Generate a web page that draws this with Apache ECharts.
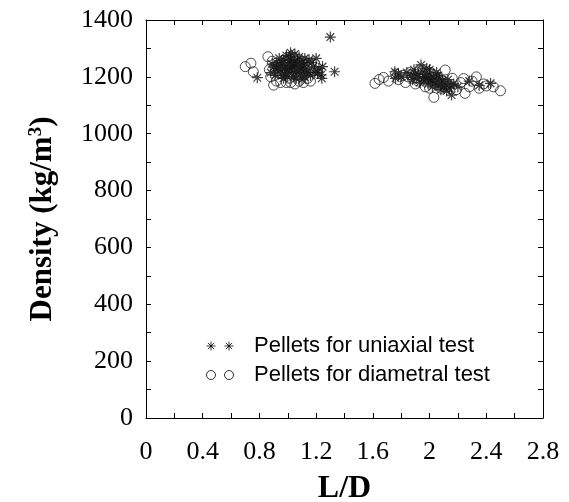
<!DOCTYPE html>
<html><head><meta charset="utf-8">
<script src="https://cdn.jsdelivr.net/npm/echarts@6/dist/echarts.min.js"></script>
<style>html,body{margin:0;padding:0;background:#fff}#c{width:569px;height:502px}</style>
</head><body><div id="c"></div>
<script>
// Uniaxial test pellets (stars)
var uniX = [0.785,1.30,1.20,1.245,1.235,1.33,0.88,0.90,0.92,0.93,0.95,0.96,0.97,0.98,0.99,1.00,1.01,1.02,1.03,1.04,1.05,1.05,1.06,1.07,1.08,1.09,1.10,1.11,1.12,1.13,1.14,1.15,1.16,1.18,1.19,1.22,1.24,0.94,0.97,1.00,1.02,1.03,1.06,0.91,0.89,1.08,1.10,0.99,1.01,1.04,1.12,1.17,1.21,
  0.93,0.96,0.98,1.00,1.03,1.05,1.07,1.09,1.11,1.13,0.95,1.02,
  1.755,1.76,1.78,1.80,1.84,1.87,1.89,1.91,1.92,1.94,1.95,1.96,1.97,1.98,1.99,2.00,2.01,2.02,2.03,2.04,2.05,2.06,2.07,2.08,2.09,2.10,2.11,2.12,2.13,2.14,2.155,2.17,2.20,2.28,2.35,2.43,1.93,1.88,2.00,2.06,
  1.90,1.96,2.02,2.08,2.15,1.99];
var uniY = [1197,1340,1265,1236,1207,1218,1215,1235,1250,1220,1240,1205,1260,1230,1215,1245,1270,1225,1255,1200,1280,1240,1220,1260,1235,1210,1250,1230,1200,1245,1220,1260,1205,1235,1215,1230,1195,1265,1195,1200,1285,1240,1195,1205,1245,1270,1190,1275,1230,1250,1265,1250,1215,
  1230,1250,1210,1225,1235,1215,1245,1225,1240,1215,1225,1260,
  1218,1195,1210,1200,1215,1205,1225,1195,1210,1242,1220,1185,1200,1230,1175,1210,1190,1165,1200,1180,1215,1170,1195,1155,1185,1165,1175,1150,1190,1160,1136,1175,1165,1185,1170,1177,1180,1190,1225,1205,
  1210,1200,1185,1175,1170,1195];
// Diametral test pellets (circles)
var diaX = [0.70,0.74,0.757,0.86,0.90,1.16,0.87,0.88,0.89,0.92,0.94,0.95,0.97,0.99,1.00,1.02,1.03,1.05,1.06,1.08,1.09,1.11,1.12,1.14,0.96,1.01,1.04,0.93,1.07,1.18,
  1.615,1.645,1.675,1.71,1.76,1.78,1.81,1.83,1.86,1.88,1.90,1.93,1.95,1.97,1.99,2.01,2.03,2.04,2.06,2.08,2.11,2.13,2.16,2.19,2.22,2.24,2.25,2.28,2.30,2.33,2.35,2.38,2.40,2.45,2.50,1.92,2.00,2.10,1.85];
var diaY = [1236,1248,1218,1271,1171,1185,1225,1200,1255,1185,1215,1180,1245,1180,1260,1180,1210,1175,1245,1185,1225,1180,1210,1195,1225,1195,1230,1240,1205,1220,
  1177,1191,1198,1185,1210,1190,1205,1180,1215,1195,1175,1225,1200,1165,1190,1215,1128,1175,1195,1160,1224,1175,1195,1155,1180,1194,1142,1165,1185,1200,1160,1175,1168,1165,1151,1185,1160,1185,1200];
var xTicks = [0,0.4,0.8,1.2,1.6,2,2.4,2.8];
var yTicks = [0,200,400,600,800,1000,1200,1400];
var seriesNames = ['Pellets for uniaxial test','Pellets for diametral test'];

function pairs(xs, ys){ return xs.map(function(x,i){ return [x, ys[i]]; }); }
function fmt(v){ return String(Math.round(v*1000)/1000); }
var star = 'path://M0,-5L0,5M-5,0L5,0M-3.5,-3.5L3.5,3.5M-3.5,3.5L3.5,-3.5';
var star2 = 'path://M0,-5L0,5M-5,0L5,0M-3.5,-3.5L3.5,3.5M-3.5,3.5L3.5,-3.5M20,-5L20,5M15,0L25,0M16.5,-3.5L23.5,3.5M16.5,3.5L23.5,-3.5';
var circ2 = 'path://M-5,0A5,5 0 1,1 5,0A5,5 0 1,1 -5,0ZM15,0A5,5 0 1,1 25,0A5,5 0 1,1 15,0Z';
var serif = "'Liberation Serif','Times New Roman',serif";
var sans = "'Liberation Sans',Arial,sans-serif";
var axBase = {
  min: 0, axisLine:{show:true,onZero:false,lineStyle:{color:'#000',width:1}},
  axisTick:{show:true,inside:true,length:5,lineStyle:{color:'#000'}},
  minorTick:{show:true,splitNumber:2,length:5,lineStyle:{color:'#000'}},
  splitLine:{show:false}
};
var chart = echarts.init(document.getElementById('c'));
chart.setOption({
  animation:false,
  backgroundColor:'#fff',
  grid:{left:146,right:26,top:20,bottom:84,outerBoundsMode:'none',containLabel:false},
  xAxis:[
    Object.assign({}, axBase, {type:'value', position:'bottom', max:xTicks[xTicks.length-1], interval:0.4,
      name:'L/D', nameLocation:'middle', nameGap:55,
      nameTextStyle:{fontFamily:serif,fontWeight:'bold',fontSize:32,color:'#000'},
      axisLabel:{margin:21,fontFamily:serif,fontSize:26,color:'#000',formatter:fmt}}),
    Object.assign({}, axBase, {type:'value', position:'top', max:xTicks[xTicks.length-1], interval:0.4, axisLabel:{show:false}})
  ],
  yAxis:[
    Object.assign({}, axBase, {type:'value', position:'left', max:yTicks[yTicks.length-1], interval:200,
      name:'{t|Density (kg/m}{s|3}{t|)}', nameLocation:'middle', nameGap:88, nameRotate:90,
      nameTextStyle:{rich:{t:{fontFamily:serif,fontWeight:'bold',fontSize:31,color:'#000'},
        s:{fontFamily:serif,fontWeight:'bold',fontSize:19,color:'#000',verticalAlign:'top',padding:[0,0,12,0]}}},
      axisLabel:{margin:13,fontFamily:serif,fontSize:26,color:'#000',formatter:fmt}}),
    Object.assign({}, axBase, {type:'value', position:'right', max:yTicks[yTicks.length-1], interval:200, axisLabel:{show:false}})
  ],
  legend:{
    orient:'vertical', left:206, top:335, padding:0, itemGap:7, itemWidth:30, itemHeight:9,
    textStyle:{fontFamily:sans,fontSize:22,color:'#000',padding:[0,0,0,14]},
    itemStyle:{color:'transparent',borderColor:'#000',borderWidth:1},
    data:[{name:seriesNames[0],icon:star2},{name:seriesNames[1],icon:circ2}]
  },
  series:[
    {name:seriesNames[0], type:'scatter', symbol:star, symbolSize:11,
     itemStyle:{color:'transparent',borderColor:'#111',borderWidth:1.2}, data:pairs(uniX,uniY)},
    {name:seriesNames[1], type:'scatter', symbol:'circle', symbolSize:10,
     itemStyle:{color:'transparent',borderColor:'#222',borderWidth:1}, data:pairs(diaX,diaY)}
  ]
});
</script></body></html>
